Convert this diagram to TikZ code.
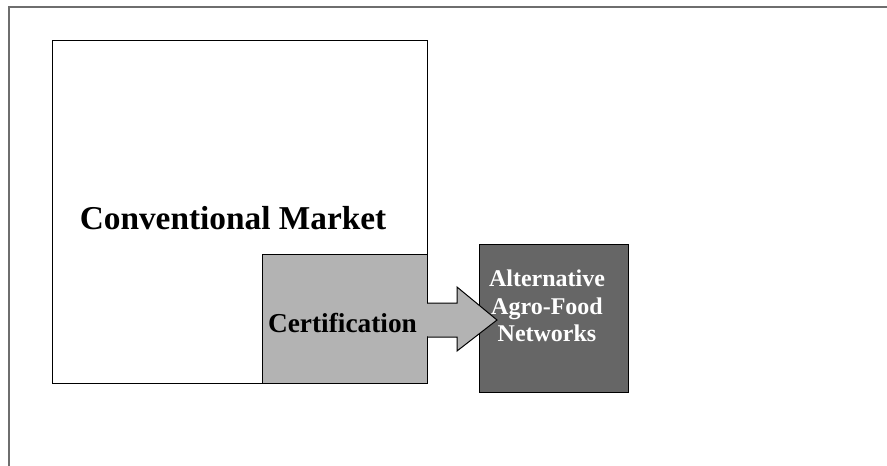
\documentclass[tikz,border=0pt]{standalone}
\usepackage{fontspec}
\setmainfont{Liberation Serif}
\usepackage{xcolor}

\definecolor{certgray}{RGB}{179,179,179}
\definecolor{netgray}{RGB}{102,102,102}
\definecolor{framegray}{RGB}{110,110,110}

\tikzset{
  plainbox/.style={draw=black, line width=0.75, inner sep=0pt},
  boxtext/.style={inner sep=0.75pt, align=center}
}

\begin{document}
\begin{tikzpicture}[x=0.75pt,y=0.75pt,yscale=-1,xscale=1]
\useasboundingbox (0,0) rectangle (887,466);

%Outer frame
\draw [color=framegray, line width=1.5] (9,466) -- (9,7) -- (887,7) ;

%Shape: Market box
\node [plainbox, fill=white, minimum width=375*0.75pt, minimum height=342*0.75pt] (market) at (239.5,212) {};
%Shape: Certification box
\node [plainbox, fill=certgray, minimum width=165*0.75pt, minimum height=128*0.75pt] (cert) at (344.5,319) {};
%Shape: Networks box
\node [plainbox, fill=netgray, minimum width=149*0.75pt, minimum height=147*0.75pt] (net) at (553.5,318.5) {};

%Shape: Right Arrow
\draw [fill=certgray, line width=0.75] (cert.east |- 0,303) -- (457,303) -- (457,287) -- (497,320) -- (457,351) -- (457,337) -- (cert.east |- 0,337) ;
\fill [certgray] (426.5,303.6) rectangle (428,336.4) ;

% Text Node
\draw (233,218) node [boxtext, font=\bfseries\fontsize{25}{30}\selectfont] (markettext) {Conventional Market};
% Text Node
\draw (342.5,323) node [boxtext, font=\bfseries\fontsize{20.5}{25}\selectfont] (certtext) {Certification};
% Text Node
\draw (547,306) node [boxtext, text=white, font=\bfseries\fontsize{18}{20.5}\selectfont] (nettext) {Alternative\\Agro-Food\\Networks};

\end{tikzpicture}
\end{document}
